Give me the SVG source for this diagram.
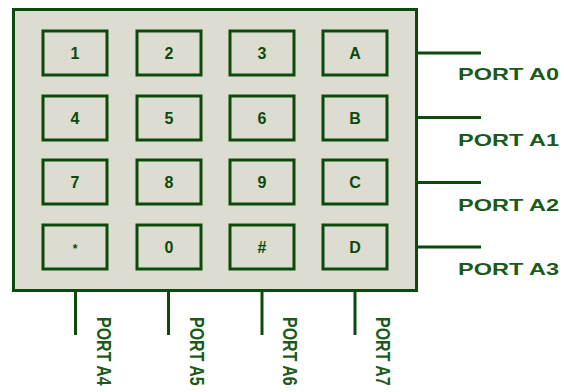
<svg xmlns="http://www.w3.org/2000/svg" width="564" height="392" viewBox="0 0 564 392">
<style>
.body{fill:#dddcd0;stroke:#0c4a0c;stroke-width:3}
.key rect{fill:#dddcd0;stroke:#0c4a0c;stroke-width:3}
.key text{font-family:"Liberation Sans",Arial,sans-serif;font-weight:bold;font-size:16px;fill:#0c4a0c;text-anchor:middle}
.wire{stroke:#0c4a0c;stroke-width:3;fill:none}
.lbl{font-family:"Liberation Sans",Arial,sans-serif;font-weight:bold;font-size:16.5px;fill:#1a5a1a}
.vlbl{font-family:"Liberation Sans",Arial,sans-serif;font-weight:bold;font-size:16px;fill:#1a5a1a}
</style>
<rect width="564" height="392" fill="#ffffff"/>
<g id="keypad"><rect class="body" x="13.5" y="9.5" width="403" height="281"/></g>
<g id="k1" class="key"><rect x="43" y="31" width="64" height="44"/><text x="75" y="58.5">1</text></g>
<g id="k2" class="key"><rect x="137" y="31" width="64" height="44"/><text x="169" y="58.5">2</text></g>
<g id="k3" class="key"><rect x="230" y="31" width="64" height="44"/><text x="262" y="58.5">3</text></g>
<g id="kA" class="key"><rect x="323" y="31" width="64" height="44"/><text x="355" y="58.5">A</text></g>
<g id="k4" class="key"><rect x="43" y="96" width="64" height="44"/><text x="75" y="123.5">4</text></g>
<g id="k5" class="key"><rect x="137" y="96" width="64" height="44"/><text x="169" y="123.5">5</text></g>
<g id="k6" class="key"><rect x="230" y="96" width="64" height="44"/><text x="262" y="123.5">6</text></g>
<g id="kB" class="key"><rect x="323" y="96" width="64" height="44"/><text x="355" y="123.5">B</text></g>
<g id="k7" class="key"><rect x="43" y="160" width="64" height="44"/><text x="75" y="187.5">7</text></g>
<g id="k8" class="key"><rect x="137" y="160" width="64" height="44"/><text x="169" y="187.5">8</text></g>
<g id="k9" class="key"><rect x="230" y="160" width="64" height="44"/><text x="262" y="187.5">9</text></g>
<g id="kC" class="key"><rect x="323" y="160" width="64" height="44"/><text x="355" y="187.5">C</text></g>
<g id="kstar" class="key"><rect x="43" y="225" width="64" height="44"/><text x="75" y="252.5" style="font-size:12px">*</text></g>
<g id="k0" class="key"><rect x="137" y="225" width="64" height="44"/><text x="169" y="252.5">0</text></g>
<g id="khash" class="key"><rect x="230" y="225" width="64" height="44"/><text x="262" y="252.5">#</text></g>
<g id="kD" class="key"><rect x="323" y="225" width="64" height="44"/><text x="355" y="252.5">D</text></g>
<g id="connectors">
<line class="wire" x1="417" y1="53" x2="481" y2="53"/>
<line class="wire" x1="417" y1="117.5" x2="481" y2="117.5"/>
<line class="wire" x1="417" y1="182.5" x2="481" y2="182.5"/>
<line class="wire" x1="417" y1="247" x2="481" y2="247"/>
<line class="wire" x1="75.5" y1="290" x2="75.5" y2="335"/>
<line class="wire" x1="168.5" y1="290" x2="168.5" y2="335"/>
<line class="wire" x1="262" y1="290" x2="262" y2="335"/>
<line class="wire" x1="355" y1="290" x2="355" y2="335"/>
</g>
<g id="labels">
<text class="lbl" x="458" y="80" textLength="101" lengthAdjust="spacingAndGlyphs">PORT A0</text>
<text class="lbl" x="458" y="146" textLength="101" lengthAdjust="spacingAndGlyphs">PORT A1</text>
<text class="lbl" x="458" y="211" textLength="101" lengthAdjust="spacingAndGlyphs">PORT A2</text>
<text class="lbl" x="458" y="275" textLength="101" lengthAdjust="spacingAndGlyphs">PORT A3</text>
<text class="vlbl" transform="translate(97,317) rotate(90) scale(1,1.3)">PORT A4</text>
<text class="vlbl" transform="translate(190,317) rotate(90) scale(1,1.3)">PORT A5</text>
<text class="vlbl" transform="translate(283,317) rotate(90) scale(1,1.3)">PORT A6</text>
<text class="vlbl" transform="translate(376,317) rotate(90) scale(1,1.3)">PORT A7</text>
</g>
</svg>
